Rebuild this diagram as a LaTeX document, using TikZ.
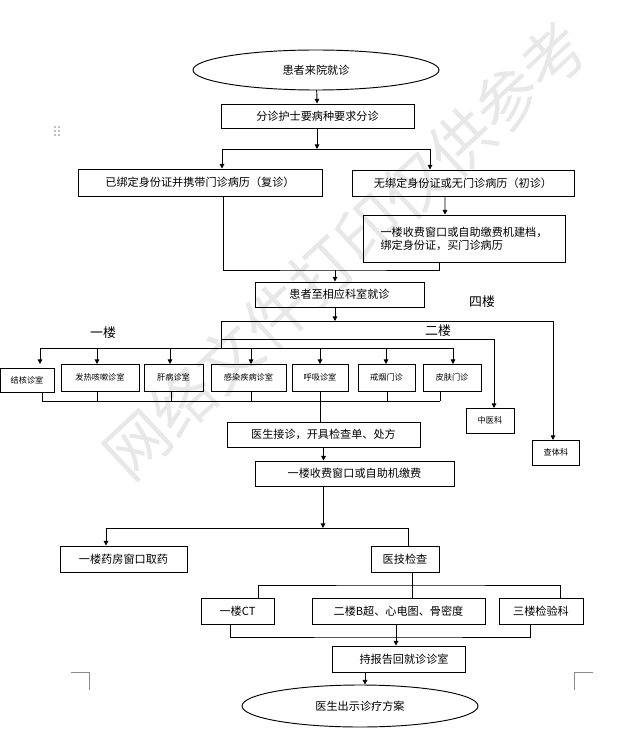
\documentclass[tikz,border=0pt]{standalone}
\usepackage{fontspec}
\setmainfont{Noto Sans CJK SC}
\usetikzlibrary{shapes.geometric,arrows.meta,calc}
\tikzset{
    box/.style={draw, thick, minimum height=0.78cm, inner sep=1pt, font=\fontsize{9.5}{11}\selectfont},
    small/.style={draw, thick, minimum height=0.81cm, inner sep=1pt, font=\fontsize{7}{8}\selectfont},
    oval/.style={draw, thick, ellipse, font=\fontsize{9.5}{11}\selectfont},
    arr/.style={thick, -{Triangle[length=4pt,width=4pt]}},
    floor/.style={font=\fontsize{11}{12}\selectfont}
}
\begin{document}
\begin{tikzpicture}[x=0.03cm, y=-0.03cm]
        \useasboundingbox (0,0) rectangle (617,732);
        % watermark
        \node [text=black!9, rotate=43, font=\fontsize{54}{54}\selectfont] (wm) at (345,250) {网络文件打印仅供参考};
        % crop marks and handle
        \draw [black!45] (71,672) -- (89,672) -- (89,690);
        \draw [black!45] (593,672) -- (574,672) -- (574,690);
        \foreach \i in {0,1} \foreach \j in {0,1,2}
            \fill [black!50] (55+4*\i,127+4*\j) circle (0.7pt);
        % nodes
        \node [oval, minimum width=7.38cm, minimum height=1.2cm] (start) at (316,70) {患者来院就诊};
        \node [box, minimum width=5.79cm, minimum height=0.72cm] (triage) at (317.5,116) {分诊护士要病种要求分诊};
        \node [box, minimum width=7.32cm, minimum height=0.81cm] (old) at (200,182.5) {已绑定身份证并携带门诊病历（复诊）};
        \node [box, minimum width=6.66cm] (new) at (463,183) {无绑定身份证或无门诊病历（初诊）};
        \node [box, minimum width=6.06cm, minimum height=1.41cm, align=left] (file) at (464,238.5) {一楼收费窗口或自助缴费机建档，\\绑定身份证，买门诊病历\hspace{2.2em}};
        \node [box, minimum width=5.07cm, minimum height=0.75cm] (arrive) at (339.5,294.5) {患者至相应科室就诊\hspace{5em}};
        \node [small, minimum width=1.62cm, minimum height=0.72cm] (jh) at (27,380) {结核诊室};
        \node [small, minimum width=2.34cm] (fr) at (100,377.5) {发热咳嗽诊室};
        \node [small, minimum width=1.77cm] (gb) at (173.5,377.5) {肝病诊室};
        \node [small, minimum width=2.25cm] (gr) at (248.5,377.5) {感染疾病诊室};
        \node [small, minimum width=1.68cm] (hx) at (320,377.5) {呼吸诊室};
        \node [small, minimum width=1.71cm] (jy) at (386.5,377.5) {戒烟门诊};
        \node [small, minimum width=1.74cm] (pf) at (452,377.5) {皮肤门诊};
        \node [small, minimum width=1.44cm, minimum height=0.75cm] (zy) at (490,420.5) {中医科};
        \node [small, minimum width=1.41cm, minimum height=0.75cm] (ct1) at (556,452.5) {查体科};
        \node [floor] (f1) at (103,333) {一楼};
        \node [floor] (f2) at (438,331) {二楼};
        \node [floor] (f4) at (482,302) {四楼};
        \node [box, minimum width=5.79cm, minimum height=0.75cm] (doctor) at (323.5,434.5) {医生接诊，开具检查单、处方\hspace{1.5em}};
        \node [box, minimum width=5.97cm, minimum height=0.75cm] (pay) at (354.5,473.5) {一楼收费窗口或自助机缴费\hspace{3em}};
        \node [box, minimum width=3.81cm] (pharm) at (123.5,559) {一楼药房窗口取药\hspace{1.5em}};
        \node [box, minimum width=2.04cm] (med) at (405,559) {医技检查};
        \node [box, minimum width=2.19cm] (ct) at (237.5,611) {一楼CT\hspace{1.5em}};
        \node [box, minimum width=5.19cm] (us) at (398.5,611) {二楼B超、心电图、骨密度};
        \node [box, minimum width=2.52cm] (lab) at (541,611) {三楼检验科};
        \node [box, minimum width=3.99cm] (report) at (398.5,659) {\hspace{1em}持报告回就诊诊室};
        \node [oval, minimum width=7.08cm, minimum height=1.26cm] (end) at (360,706) {医生出示诊疗方案};
        % connectors
        \coordinate (s1) at (317,149);
        \coordinate (s2) at (335,270);
        \coordinate (s3) at (221,321);
        \coordinate (s4) at (221,348);
        \coordinate (s5) at (320,401);
        \coordinate (s6) at (323,528);
        \coordinate (s7) at (412,585);
        \coordinate (s8) at (396,637);
        \draw [arr] (start) -- (triage);
        \draw [arr] (triage.south -| s1) -- (s1);
        \draw [arr] (s1) -| ([xshift=0.66cm]old.north);
        \draw [arr] (s1) -| ([xshift=-0.99cm]new.north);
        \draw [arr] ([xshift=-0.54cm]new.south) -- ([xshift=-0.57cm]file.north);
        \draw [thick] ([xshift=0.69cm]old.south) |- (s2) -| ([xshift=-0.75cm]file.south);
        \draw [arr] (s2) -- (arrive.north -| s2);
        \draw [arr] (arrive.south -| s2) -- (s2 |- s3);
        \draw [thick] (s4) -- (s3) -- (553,321);
        \draw [arr] (553,321) -- (553,440);
        \draw [arr] (221,339) -| (494,408);
        \draw [thick] (40,348) -- (453,348);
        \foreach \n/\x in {jh/40,fr/97,gb/170,gr/251,hx/320,jy/386,pf/453}
            \draw [arr] (\x,348) -- (\x,364);
        \foreach \n/\x in {jh/42,fr/97,gb/171,gr/251,hx/320,jy/387,pf/440}
            \draw [thick] (\n.south -| \x,0) -- (\x,401);
        \draw [thick] (42,401) -- (440,401);
        \draw [thick] (s5) -- (doctor.north -| s5);
        \draw [arr] (doctor.south) -- (pay.north -| doctor.south);
        \draw [arr] (pay.south -| s6) -- (s6);
        \draw [arr] (s6) -| (pharm.north -| 106,0);
        \draw [thick] (s6) -| (med.north -| 408,0);
        \draw [thick] (med.south -| s7) -- (s7);
        \draw [thick] (ct.north -| 258,0) |- (s7) -| (lab.north -| 560,0);
        \draw [thick] (us.north -| s7) -- (s7);
        \draw [thick] (ct.south -| 230,0) |- (s8) -| (lab.south -| 530,0);
        \draw [arr] (us.south -| s8) -- (report.north -| s8);
        \draw [arr] (report.south -| 365,0) -- (end.north -| 365,0);
\end{tikzpicture}
\end{document}
